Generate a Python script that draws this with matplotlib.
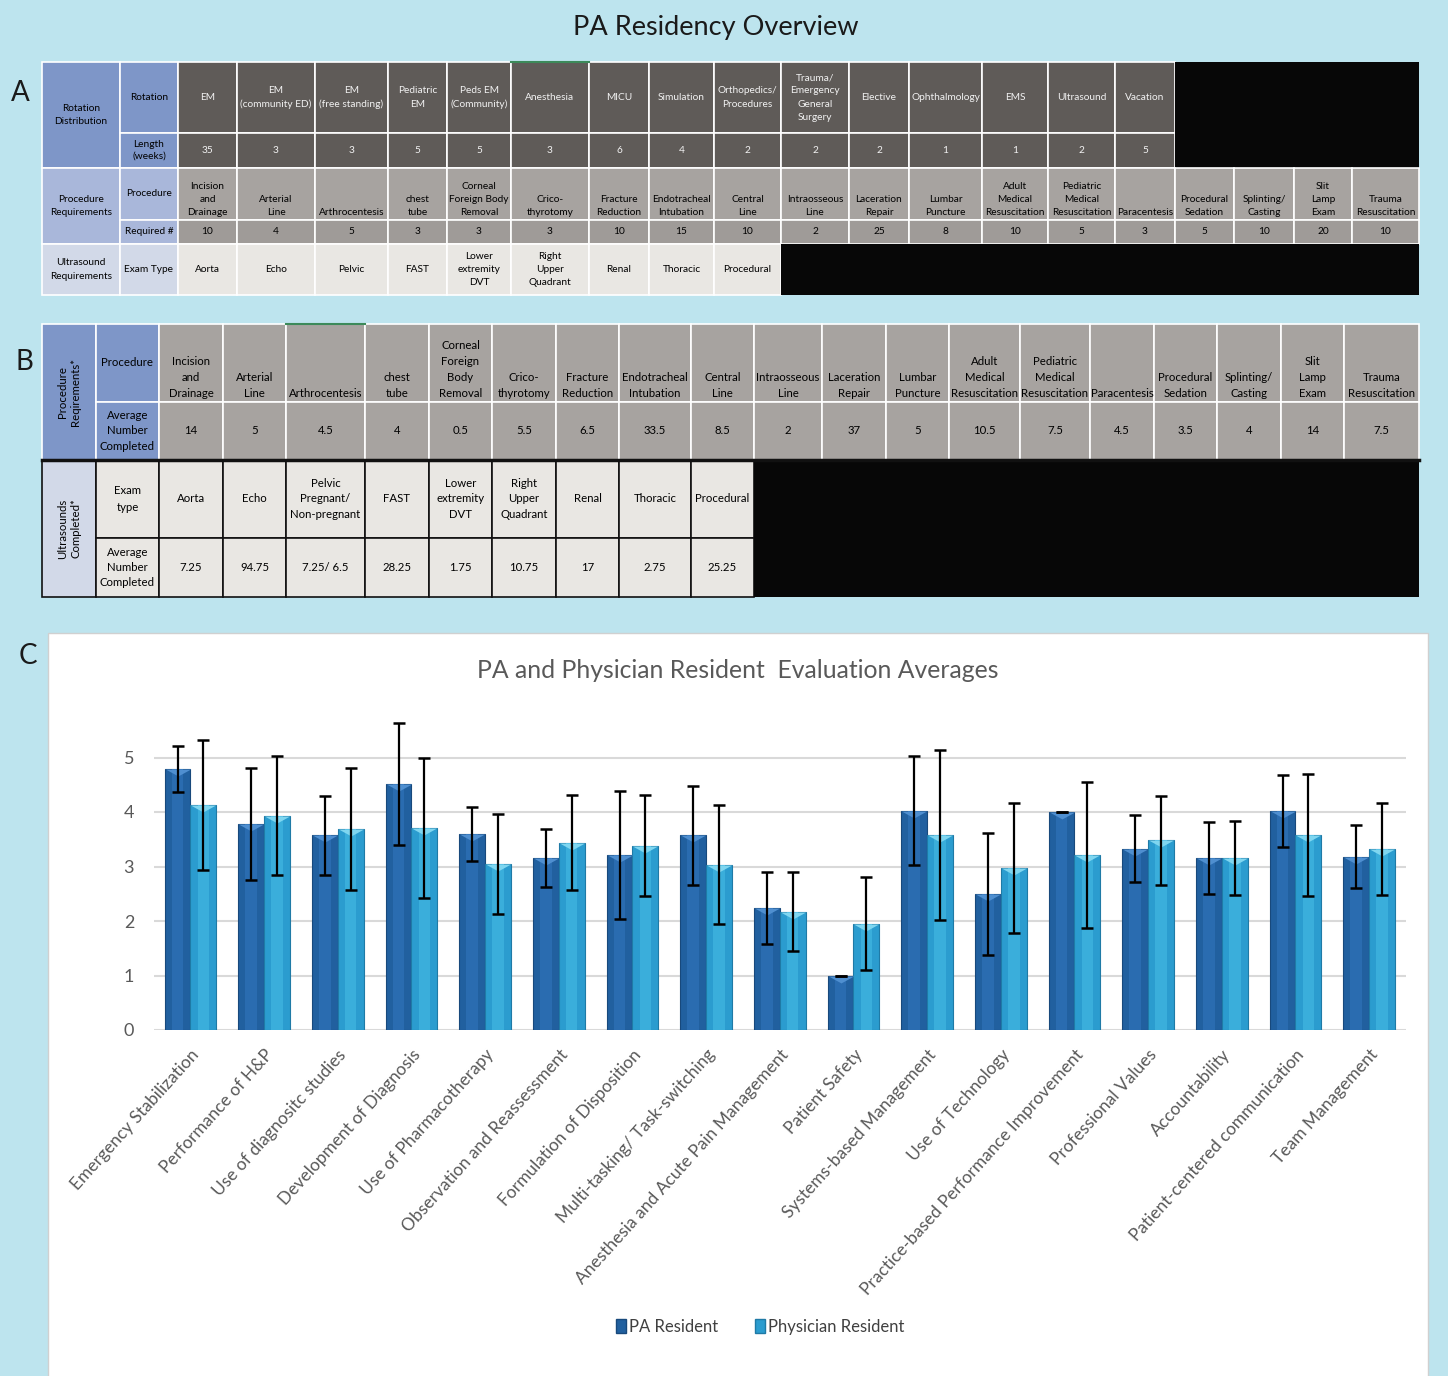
import matplotlib
matplotlib.use('Agg')
import matplotlib.pyplot as plt
import numpy as np
from matplotlib.patches import Rectangle

# ---- data: panel A
rotations = ['EM', 'EM\n(community ED)', 'EM\n(free standing)', 'Pediatric\nEM', 'Peds EM\n(Community)',
             'Anesthesia', 'MICU', 'Simulation', 'Orthopedics/\nProcedures',
             'Trauma/\nEmergency\nGeneral\nSurgery', 'Elective', 'Ophthalmology', 'EMS', 'Ultrasound', 'Vacation']
rotation_weeks = [35, 3, 3, 5, 5, 3, 6, 4, 2, 2, 2, 1, 1, 2, 5]
procedures_a = ['Incision\nand\nDrainage', 'Arterial\nLine', 'Arthrocentesis', 'chest\ntube',
                'Corneal\nForeign Body\nRemoval', 'Crico-\nthyrotomy', 'Fracture\nReduction',
                'Endotracheal\nIntubation', 'Central\nLine', 'Intraosseous\nLine', 'Laceration\nRepair',
                'Lumbar\nPuncture', 'Adult\nMedical\nResuscitation', 'Pediatric\nMedical\nResuscitation',
                'Paracentesis', 'Procedural\nSedation', 'Splinting/\nCasting', 'Slit\nLamp\nExam',
                'Trauma\nResuscitation']
required_n = [10, 4, 5, 3, 3, 3, 10, 15, 10, 2, 25, 8, 10, 5, 3, 5, 10, 20, 10]
exam_types_a = ['Aorta', 'Echo', 'Pelvic', 'FAST', 'Lower\nextremity\nDVT', 'Right\nUpper\nQuadrant',
                'Renal', 'Thoracic', 'Procedural']

# ---- data: panel B
procedures_b = ['Incision\nand\nDrainage', 'Arterial\nLine', 'Arthrocentesis', 'chest\ntube',
                'Corneal\nForeign\nBody\nRemoval', 'Crico-\nthyrotomy', 'Fracture\nReduction',
                'Endotracheal\nIntubation', 'Central\nLine', 'Intraosseous\nLine', 'Laceration\nRepair',
                'Lumbar\nPuncture', 'Adult\nMedical\nResuscitation', 'Pediatric\nMedical\nResuscitation',
                'Paracentesis', 'Procedural\nSedation', 'Splinting/\nCasting', 'Slit\nLamp\nExam',
                'Trauma\nResuscitation']
avg_completed = [14, 5, 4.5, 4, 0.5, 5.5, 6.5, 33.5, 8.5, 2, 37, 5, 10.5, 7.5, 4.5, 3.5, 4, 14, 7.5]
exam_types_b = ['Aorta', 'Echo', 'Pelvic\nPregnant/\nNon-pregnant', 'FAST', 'Lower\nextremity\nDVT',
                'Right\nUpper\nQuadrant', 'Renal', 'Thoracic', 'Procedural']
us_completed = ['7.25', '94.75', '7.25/ 6.5', '28.25', '1.75', '10.75', '17', '2.75', '25.25']

# ---- data: panel C
competencies = ['Emergency Stabilization', 'Performance of H&P', 'Use of diagnositc studies',
                'Development of Diagnosis', 'Use of Pharmacotherapy', 'Observation and Reassessment',
                'Formulation of Disposition', 'Multi-tasking/ Task-switching',
                'Anesthesia and Acute Pain Management', 'Patient Safety', 'Systems-based Management',
                'Use of Technology', 'Practice-based Performance Improvement', 'Professional Values',
                'Accountability', 'Patient-centered communication', 'Team Management']
pa_mean = [4.79, 3.78, 3.57, 4.52, 3.60, 3.16, 3.21, 3.57, 2.24, 1.00, 4.02, 2.50, 4.00, 3.33, 3.16, 4.02, 3.18]
pa_sd = [0.42, 1.03, 0.73, 1.12, 0.49, 0.53, 1.17, 0.91, 0.66, 0.0, 1.00, 1.12, 0.0, 0.61, 0.66, 0.66, 0.58]
md_mean = [4.13, 3.93, 3.68, 3.71, 3.05, 3.44, 3.38, 3.03, 2.17, 1.95, 3.57, 2.97, 3.21, 3.48, 3.15, 3.57, 3.32]
md_sd = [1.19, 1.09, 1.12, 1.28, 0.92, 0.87, 0.93, 1.09, 0.72, 0.85, 1.56, 1.19, 1.34, 0.82, 0.68, 1.12, 0.84]

# ---- layout (pixels)
W, H = 1448, 1376
BG = '#bde4ee'
FONT = ['Lato', 'DejaVu Sans']
A_cols = [42, 120, 178, 237, 315, 388, 447, 511, 589, 649, 714, 781, 849, 909, 982, 1048, 1115,
          1175, 1234, 1294, 1352, 1419]
A_rows = [62, 133, 168, 220, 244, 295]
B_cols = [42, 96, 159, 223, 286, 365, 429, 492, 556, 619, 691, 754, 822, 886, 949, 1020, 1090,
          1154, 1217, 1281, 1344, 1419]
B_rows = [324, 402, 460, 538, 597]

blue1, blue2, blue3 = '#7e96c8', '#a9b7da', '#d2d9e8'
dark, mid, mid2, light = '#5f5b58', '#a7a3a0', '#9f9b98', '#e9e7e3'

fig = plt.figure(figsize=(W / 100, H / 100), dpi=100)
fig.patch.set_facecolor(BG)
bg = fig.add_axes([0, 0, 1, 1])
bg.set_xlim(0, W)
bg.set_ylim(H, 0)
bg.axis('off')


def cell(x0, x1, y0, y1, color, text='', tc='black', va='center', fs=8, edge='white', lw=1.2, rot=0,
         ls=1.6):
    bg.add_patch(Rectangle((x0, y0), x1 - x0, y1 - y0, facecolor=color, edgecolor=edge, linewidth=lw))
    if text == '':
        return
    ty = y1 - 3 if va == 'bottom' else (y0 + y1) / 2
    bg.text((x0 + x1) / 2, ty, text, ha='center', va=va, fontsize=fs, color=tc, family=FONT,
            linespacing=ls, rotation=rot, multialignment='center')


bg.text(716, 28, 'PA Residency Overview', ha='center', va='center', fontsize=19.5, family=FONT,
        color='#1a1a1a')
for lab, (px, py) in zip(['A', 'B', 'C'], [(20, 93), (24, 362), (28, 656)]):
    bg.text(px, py, lab, ha='center', va='center', fontsize=20, family=FONT, color='#1a1a1a')

# ---- table A
fsA = 7.3
cell(A_cols[0], A_cols[1], A_rows[0], A_rows[2], blue1, 'Rotation\nDistribution', fs=fsA)
cell(A_cols[1], A_cols[2], A_rows[0], A_rows[1], blue1, 'Rotation', fs=fsA)
cell(A_cols[1], A_cols[2], A_rows[1], A_rows[2], blue1, 'Length\n(weeks)', fs=fsA, ls=1.3)
cell(A_cols[0], A_cols[1], A_rows[2], A_rows[4], blue2, 'Procedure\nRequirements', fs=fsA)
cell(A_cols[1], A_cols[2], A_rows[2], A_rows[3], blue2, 'Procedure', fs=fsA)
cell(A_cols[1], A_cols[2], A_rows[3], A_rows[4], blue2, 'Required #', fs=fsA)
cell(A_cols[0], A_cols[1], A_rows[4], A_rows[5], blue3, 'Ultrasound\nRequirements', fs=fsA)
cell(A_cols[1], A_cols[2], A_rows[4], A_rows[5], blue3, 'Exam Type', fs=fsA)

for i, (name, wk) in enumerate(zip(rotations, rotation_weeks)):
    x0, x1 = A_cols[i + 2], A_cols[i + 3]
    cell(x0, x1, A_rows[0], A_rows[1], dark, name, tc='#f2f2f2', fs=fsA)
    cell(x0, x1, A_rows[1], A_rows[2], dark, str(wk), tc='#f2f2f2', fs=fsA)
n = len(rotations)
bg.add_patch(Rectangle((A_cols[n + 2], A_rows[0]), A_cols[-1] - A_cols[n + 2], A_rows[2] - A_rows[0],
                       facecolor='#070707', edgecolor='none'))

for i, (name, req) in enumerate(zip(procedures_a, required_n)):
    x0, x1 = A_cols[i + 2], A_cols[i + 3]
    cell(x0, x1, A_rows[2], A_rows[3], mid, name, va='bottom', fs=fsA)
    cell(x0, x1, A_rows[3], A_rows[4], mid2, str(req), fs=fsA)

for i, name in enumerate(exam_types_a):
    x0, x1 = A_cols[i + 2], A_cols[i + 3]
    cell(x0, x1, A_rows[4], A_rows[5], light, name, fs=fsA)
n = len(exam_types_a)
bg.add_patch(Rectangle((A_cols[n + 2], A_rows[4]), A_cols[-1] - A_cols[n + 2], A_rows[5] - A_rows[4],
                       facecolor='#070707', edgecolor='none'))
bg.plot([A_cols[7], A_cols[8]], [A_rows[0], A_rows[0]], color='#3c8a5a', lw=1.5)

# ---- table B
fsB = 8.2
cell(B_cols[0], B_cols[1], B_rows[0], B_rows[2], blue1, 'Procedure\nReqirements*', fs=fsB, rot=90,
     ls=1.3)
cell(B_cols[1], B_cols[2], B_rows[0], B_rows[1], blue1, 'Procedure', fs=fsB)
cell(B_cols[1], B_cols[2], B_rows[1], B_rows[2], blue1, 'Average\nNumber\nCompleted', fs=fsB, ls=1.5)
for i, (name, v) in enumerate(zip(procedures_b, avg_completed)):
    x0, x1 = B_cols[i + 2], B_cols[i + 3]
    cell(x0, x1, B_rows[0], B_rows[1], mid, name, va='bottom', fs=fsB, ls=1.55)
    cell(x0, x1, B_rows[1], B_rows[2], mid, f'{v:g}', fs=fsB)

cell(B_cols[0], B_cols[1], B_rows[2], B_rows[4], blue3, 'Ultrasounds\nCompleted*', fs=fsB, rot=90,
     edge='#111111', ls=1.3)
cell(B_cols[1], B_cols[2], B_rows[2], B_rows[3], light, 'Exam\ntype', fs=fsB, edge='#111111')
cell(B_cols[1], B_cols[2], B_rows[3], B_rows[4], light, 'Average\nNumber\nCompleted', fs=fsB,
     edge='#111111', ls=1.5)
for i, (name, v) in enumerate(zip(exam_types_b, us_completed)):
    x0, x1 = B_cols[i + 2], B_cols[i + 3]
    cell(x0, x1, B_rows[2], B_rows[3], light, name, fs=fsB, edge='#111111', ls=1.55)
    cell(x0, x1, B_rows[3], B_rows[4], light, v, fs=fsB, edge='#111111')
n = len(exam_types_b)
bg.add_patch(Rectangle((B_cols[n + 2], B_rows[2]), B_cols[-1] - B_cols[n + 2], B_rows[4] - B_rows[2],
                       facecolor='#070707', edgecolor='none'))
bg.plot([B_cols[0], B_cols[-1]], [B_rows[2], B_rows[2]], color='#111111', lw=2.5)
bg.plot([B_cols[4], B_cols[5]], [B_rows[0], B_rows[0]], color='#3c8a5a', lw=1.5)

# ---- panel C frame
bg.add_patch(Rectangle((48, 633), 1380, 760, facecolor='white', edgecolor='#d0d0d0', lw=1))
bg.text(738, 671, 'PA and Physician Resident  Evaluation Averages', ha='center', va='center',
        fontsize=17.8, family=FONT, color='#595959')

# ---- bar chart
y0px, unit = 1030, 54.5
ymax = 5.7
ax = fig.add_axes([153.6 / W, (H - y0px) / H, (1406 - 153.6) / W, ymax * unit / H])
ax.set_facecolor('none')
x = np.arange(len(competencies))
w = 0.35
pa_col, md_col = '#21609f', '#2b9ccf'
ax.bar(x - w / 2, pa_mean, w, color=pa_col, edgecolor='#18497c', linewidth=0.8, zorder=2)
ax.bar(x + w / 2, md_mean, w, color=md_col, edgecolor='#1f7aa6', linewidth=0.8, zorder=2)
ax.bar(x - w / 2, pa_mean, w * 0.45, color='#2a6cb0', linewidth=0, zorder=2)
ax.bar(x + w / 2, md_mean, w * 0.45, color='#3aaedb', linewidth=0, zorder=2)
tri = [(-1, 0), (1, 0), (0, -0.55), (-1, 0)]
ax.scatter(x - w / 2, pa_mean, marker=tri, s=330, color='#4f8fd0', linewidths=0, zorder=3)
ax.scatter(x + w / 2, md_mean, marker=tri, s=330, color='#7fd6f0', linewidths=0, zorder=3)
ax.errorbar(x - w / 2, pa_mean, yerr=pa_sd, fmt='none', ecolor='black', elinewidth=1.6,
            capsize=4, capthick=1.8, zorder=4, clip_on=False)
ax.errorbar(x + w / 2, md_mean, yerr=md_sd, fmt='none', ecolor='black', elinewidth=1.6,
            capsize=4, capthick=1.8, zorder=4, clip_on=False)
ax.set_xlim(-0.5, len(competencies) - 0.5)
ax.set_ylim(0, ymax)
ax.set_yticks(range(6))
ax.yaxis.grid(True, color='#d9d9d9', lw=1.5, zorder=0)
ax.set_axisbelow(True)
for s in ax.spines.values():
    s.set_visible(False)
ax.tick_params(axis='both', length=0, labelsize=13, labelcolor='#595959')
ax.tick_params(axis='y', pad=14)
ax.set_xticks(x)
ax.set_xticklabels(competencies, rotation=48, ha='right', rotation_mode='anchor', fontsize=12.5,
                   family=FONT, color='#595959')
ax.tick_params(axis='x', pad=12)
for t in ax.get_yticklabels():
    t.set_family(FONT)

handles = [Rectangle((0, 0), 1, 1, facecolor=pa_col, edgecolor='#18497c'),
           Rectangle((0, 0), 1, 1, facecolor=md_col, edgecolor='#1f7aa6')]
fig.legend(handles, ['PA Resident', 'Physician Resident'], loc='center',
           bbox_to_anchor=(760 / W, 1 - 1327 / H), ncol=2, frameon=False, handlelength=0.6,
           handleheight=0.9, handletextpad=0.2, columnspacing=2.2, prop={'family': FONT, 'size': 12},
           labelcolor='#404040')

fig.savefig('out.png', dpi=100, facecolor=BG)
